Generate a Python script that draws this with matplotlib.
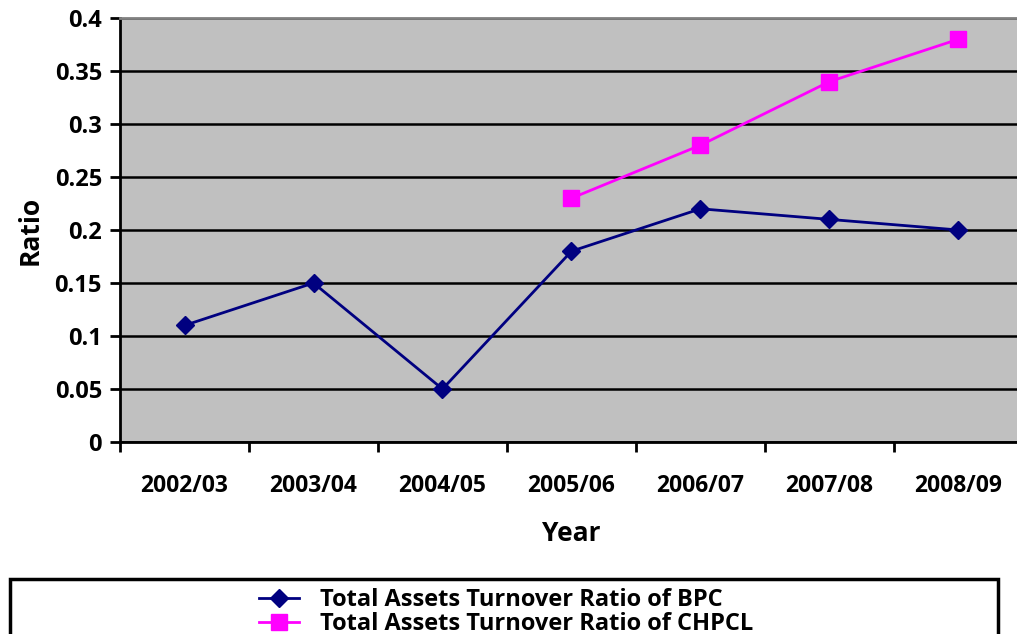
import numpy as np
import matplotlib.pyplot as plt
from matplotlib.patches import Rectangle

years = ["2002/03", "2003/04", "2004/05", "2005/06", "2006/07", "2007/08", "2008/09"]
bpc = [0.11, 0.15, 0.05, 0.18, 0.22, 0.21, 0.20]
chpcl = [np.nan, np.nan, np.nan, 0.23, 0.28, 0.34, 0.38]
yticks = [0, 0.05, 0.1, 0.15, 0.2, 0.25, 0.3, 0.35, 0.4]
ytick_labels = ["0", "0.05", "0.1", "0.15", "0.2", "0.25", "0.3", "0.35", "0.4"]

plt.rcParams["font.family"] = ["Open Sans", "DejaVu Sans"]
plt.rcParams["font.weight"] = "bold"

W, H = 1017, 634
fig = plt.figure(figsize=(W / 100, H / 100), dpi=100)
ax = fig.add_axes([120 / W, 1 - 442 / H, 903 / W, 424 / H])
ax.set_facecolor("#c0c0c0")

x = np.arange(len(years))
ax.plot(x, bpc, color="#000080", lw=2, marker="D", ms=9,
        label="Total Assets Turnover Ratio of BPC", zorder=3)
ax.plot(x, chpcl, color="#ff00ff", lw=2, marker="s", ms=12,
        label="Total Assets Turnover Ratio of CHPCL", zorder=3)

ax.set_xlim(-0.5, len(years) - 0.5)
ax.set_ylim(0, 0.4)
ax.set_yticks(yticks)
ax.set_yticklabels(ytick_labels)
ax.yaxis.grid(True, color="black", lw=1.8)
ax.set_axisbelow(True)

ax.set_xticks(x)
ax.set_xticklabels(years)
ax.set_xticks(np.arange(len(years) + 1) - 0.5, minor=True)
ax.tick_params(axis="x", which="major", length=0, pad=23, labelsize=16.5)
ax.tick_params(axis="x", which="minor", length=7, width=2, color="black")
ax.tick_params(axis="y", length=7, width=2, labelsize=17, pad=6)

for s in ["left", "bottom"]:
    ax.spines[s].set_linewidth(2)
    ax.spines[s].set_color("black")
ax.spines["top"].set_color("#808080")
ax.spines["top"].set_linewidth(2)
ax.spines["right"].set_visible(False)

ax.set_ylabel("Ratio", fontsize=19, fontweight="bold", labelpad=8)
ax.set_xlabel("Year", fontsize=19, fontweight="bold", labelpad=16)

fig.patches.append(Rectangle((10 / W, -0.05), 988 / W, 0.05 + 55 / H,
                             transform=fig.transFigure, fill=False,
                             edgecolor="black", lw=2.5))
fig.legend(loc="center", bbox_to_anchor=(506 / W, 1 - 612 / H), frameon=False,
           fontsize=17, handlelength=1.7, labelspacing=0.0, borderpad=0,
           handletextpad=0.9)

fig.savefig("out.png", dpi=100)
